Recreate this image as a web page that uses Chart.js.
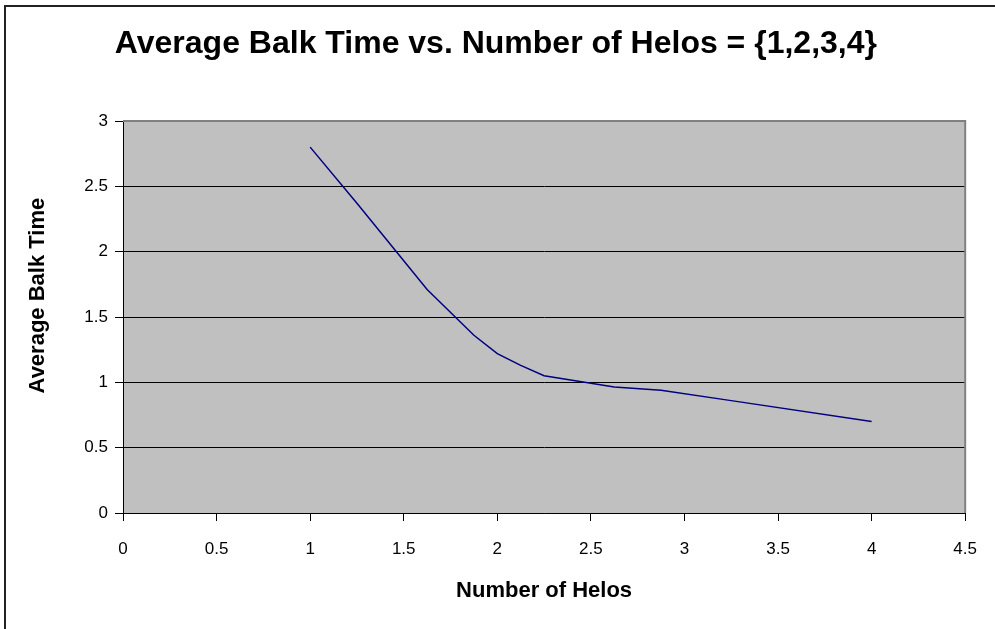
<!DOCTYPE html>
<html>
<head>
<meta charset="utf-8">
<script src="https://cdn.jsdelivr.net/npm/chart.js@4/dist/chart.umd.min.js"></script>
<style>
  body { margin: 0; background: #fff; }
</style>
</head>
<body>
<canvas id="myChart" width="995" height="629"></canvas>
<script>
  const helos = [1, 1.25, 1.375, 1.625, 1.875, 2, 2.125, 2.25, 2.625, 2.875, 3.25, 4];
  const balkTime = [2.8, 2.37, 2.15, 1.71, 1.36, 1.22, 1.13, 1.05, 0.965, 0.94, 0.86, 0.70];
  const xTicks = [0, 0.5, 1, 1.5, 2, 2.5, 3, 3.5, 4, 4.5];
  const yTicks = [0, 0.5, 1, 1.5, 2, 2.5, 3];

  const points = helos.map((x, i) => ({ x: x, y: balkTime[i] }));

  // grey plot area, grey frame top/right, outer border top/left
  const plotBack = {
    id: 'plotBack',
    beforeDraw(chart) {
      const { ctx, chartArea: a } = chart;
      ctx.save();
      ctx.fillStyle = '#C0C0C0';
      ctx.fillRect(a.left, a.top, a.right - a.left, a.bottom - a.top);
      ctx.strokeStyle = '#222';
      ctx.lineWidth = 2;
      ctx.beginPath();
      ctx.moveTo(5, 629);
      ctx.lineTo(5, 6);
      ctx.lineTo(995, 6);
      ctx.stroke();
      ctx.restore();
    },
    beforeDatasetsDraw(chart) {
      const { ctx, chartArea: a } = chart;
      ctx.save();
      ctx.strokeStyle = '#808080';
      ctx.lineWidth = 2;
      ctx.beginPath();
      ctx.moveTo(a.left, a.top);
      ctx.lineTo(a.right, a.top);
      ctx.lineTo(a.right, a.bottom);
      ctx.stroke();
      ctx.restore();
    }
  };

  const fam = '"Liberation Sans", Arial, sans-serif';
  const font = { family: fam, size: 17 };
  const bold = { family: fam, size: 22, weight: 'bold' };
  const plain = v => String(v);

  const config = {
    type: 'scatter',
    data: {
      datasets: [{
        data: points,
        showLine: true,
        borderColor: '#000080',
        borderWidth: 1.5,
        pointRadius: 0,
        tension: 0
      }]
    },
    options: {
      responsive: false,
      animation: false,
      layout: { padding: { left: 6, right: 27, top: 0, bottom: 0 } },
      plugins: {
        legend: { display: false },
        tooltip: { enabled: false },
        title: {
          display: true,
          text: '  Average Balk Time vs. Number of Helos = {1,2,3,4}',
          color: '#000',
          font: { family: fam, size: 32, weight: 'bold' },
          padding: { top: 25, bottom: 57.6 }
        }
      },
      scales: {
        x: {
          type: 'linear',
          min: 0,
          max: 4.5,
          afterFit: s => { s.height = 116; },
          afterBuildTicks: s => { s.ticks = xTicks.map(v => ({ value: v })); },
          ticks: { color: '#000', font: font, padding: 18, maxRotation: 0, callback: plain },
          grid: { drawOnChartArea: false, color: '#000', tickLength: 8 },
          border: { color: '#000', width: 1 },
          title: { display: true, text: 'Number of Helos', color: '#000', font: bold, padding: { top: 0, bottom: 25 } }
        },
        y: {
          type: 'linear',
          min: 0,
          max: 3,
          afterFit: s => { s.width = 117; },
          afterBuildTicks: s => { s.ticks = yTicks.map(v => ({ value: v })); },
          ticks: { color: '#000', font: font, padding: 7, callback: plain },
          grid: {
            color: c => (c.tick && c.tick.value === 3 ? '#808080' : '#000'),
            tickColor: '#000',
            tickLength: 8
          },
          border: { color: '#000', width: 1 },
          title: { display: true, text: '       Average Balk Time', color: '#000', font: bold, padding: { top: 19, bottom: 0 } }
        }
      }
    },
    plugins: [plotBack]
  };

  const myChart = new Chart(document.getElementById('myChart'), config);
</script>
</body>
</html>
